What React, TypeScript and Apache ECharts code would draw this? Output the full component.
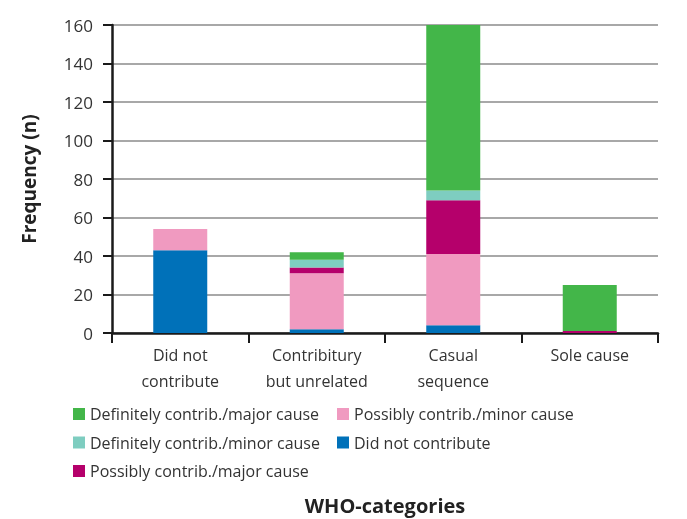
import React, { useEffect, useRef } from "react";
import * as echarts from "echarts";

const categories = ["Did not\ncontribute", "Contribitury\nbut unrelated", "Casual\nsequence", "Sole cause"];
const didNotContribute = [43, 2, 4, 0];
const possiblyMinor = [11, 29, 37, 0];
const possiblyMajor = [0, 3, 28, 1];
const definitelyMinor = [0, 4, 5, 0];
const definitelyMajor = [0, 4, 86, 24];
const yTicks = [0, 20, 40, 60, 80, 100, 120, 140, 160];

const seriesDefs = [
  { name: "Did not contribute", data: didNotContribute, color: "#0071b9" },
  { name: "Possibly contrib./minor cause", data: possiblyMinor, color: "#f09ac0" },
  { name: "Possibly contrib./major cause", data: possiblyMajor, color: "#b5006b" },
  { name: "Definitely contrib./minor cause", data: definitelyMinor, color: "#7ecdc0" },
  { name: "Definitely contrib./major cause", data: definitelyMajor, color: "#43b649" },
];

const FONT = "Open Sans";

export default function App() {
  const ref = useRef<HTMLDivElement>(null);
  useEffect(() => {
    if (!ref.current) return;
    const chart = echarts.init(ref.current, undefined, { renderer: "svg" });
    const legendCommon = {
      orient: "vertical",
      padding: 0,
      itemWidth: 12,
      itemHeight: 12,
      itemGap: 12.5,
      icon: "rect",
      textStyle: { fontFamily: FONT, fontSize: 16, lineHeight: 16, color: "#333" },
    };
    chart.setOption({
      animation: false,
      textStyle: { fontFamily: FONT },
      grid: { left: 112, right: 29, top: 25, bottom: 186, containLabel: false, outerBoundsMode: "none" },
      legend: [
        {
          ...legendCommon,
          left: 73,
          top: 406,
          data: ["Definitely contrib./major cause", "Definitely contrib./minor cause", "Possibly contrib./major cause"],
        },
        {
          ...legendCommon,
          left: 337,
          top: 406,
          data: ["Possibly contrib./minor cause", "Did not contribute"],
        },
      ],
      xAxis: {
        type: "category",
        data: categories,
        name: "WHO-categories",
        nameLocation: "middle",
        nameGap: 162,
        nameTextStyle: { fontFamily: FONT, fontSize: 20, fontWeight: "bold", color: "#222" },
        axisLine: { lineStyle: { color: "#1a1a1a", width: 2.5 } },
        axisTick: { show: true, length: 10, lineStyle: { color: "#1a1a1a", width: 2 } },
        axisLabel: { fontFamily: FONT, fontSize: 16, color: "#333", lineHeight: 26, margin: 9 },
      },
      yAxis: {
        type: "value",
        min: yTicks[0],
        max: yTicks[yTicks.length - 1],
        interval: 20,
        name: "Frequency (n)",
        nameLocation: "middle",
        nameGap: 74,
        nameTextStyle: { fontFamily: FONT, fontSize: 19, fontWeight: "bold", color: "#222" },
        axisLine: { show: true, lineStyle: { color: "#1a1a1a", width: 2.5 } },
        axisTick: { show: true, length: 9, lineStyle: { color: "#1a1a1a", width: 2 } },
        axisLabel: { fontFamily: FONT, fontSize: 17, color: "#333", margin: 19 },
        splitLine: { lineStyle: { color: "#a8a8a8", width: 2 } },
      },
      series: seriesDefs.map((s) => ({
        name: s.name,
        type: "bar",
        stack: "total",
        barWidth: 54,
        data: s.data,
        itemStyle: { color: s.color },
      })),
    });
    return () => chart.dispose();
  }, []);
  return <div ref={ref} style={{ position: "fixed", left: 0, top: 0, width: 687, height: 519 }} />;
}
